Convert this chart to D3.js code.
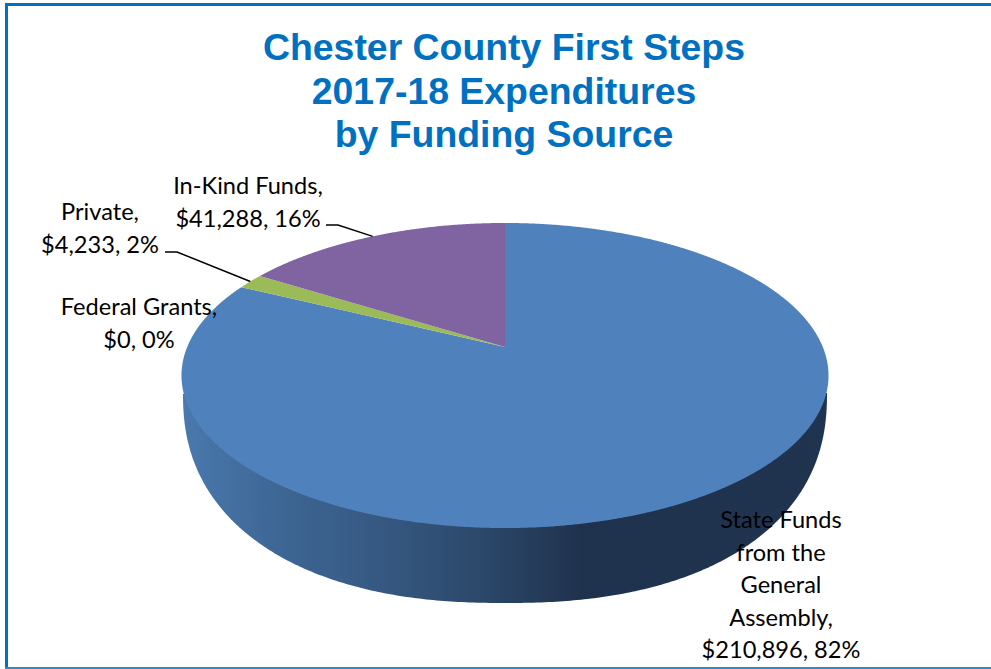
<!DOCTYPE html>
<html>
<head>
<meta charset="utf-8">
<script src="https://cdn.jsdelivr.net/npm/d3@7"></script>
<style>
  html, body { margin: 0; padding: 0; background: #fff; }
  svg { display: block; }
</style>
</head>
<body>
<div id="container"></div>
<script>
let w = 991;
let h = 669;

//chart data, clockwise from the top of the pie
let categories = ['State Funds from the General Assembly', 'Federal Grants', 'Private', 'In-Kind Funds'];
let amounts = [210896, 0, 4233, 41288];
let percents = [82, 0, 2, 16];
let sliceColors = ['#4F81BD', '#C0504D', '#9BBB59', '#8064A2'];

let titleLines = ['Chester County First Steps', '2017-18 Expenditures', 'by Funding Source'];

//label text, split the way it wraps in the picture
let labelLines = [
  ['State Funds', 'from the', 'General', 'Assembly,', '$210,896, 82%'],
  ['Federal Grants,', '$0, 0%'],
  ['Private,', '$4,233, 2%'],
  ['In-Kind Funds,', '$41,288, 16%']
];
let labelX = [781, 139, 100, 248];
let labelY = [528, 315, 220, 194];

let blue = '#0070C0';

let viz = d3.select('#container')
  .append('svg')
    .attr('width', w)
    .attr('height', h)
    .attr('id', 'viz');

//frame, only top, left and bottom show
viz.append('rect').attr('x', 5).attr('y', 3).attr('width', w).attr('height', 3).attr('fill', blue);
viz.append('rect').attr('x', 5).attr('y', 3).attr('width', 3).attr('height', h).attr('fill', blue);
viz.append('rect').attr('x', 5).attr('y', 667).attr('width', w).attr('height', 2).attr('fill', '#2E8BCB');

//title
viz.selectAll('.title').data(titleLines)
  .enter()
  .append('text')
    .attr('class', 'title')
    .attr('x', 504)
    .attr('y', (d, i) => 60 + i * 43.5)
    .attr('text-anchor', 'middle')
    .attr('font-family', 'Liberation Sans')
    .attr('font-weight', 'bold')
    .attr('font-size', 37.4)
    .attr('fill', blue)
    .text(d => d);

//the pie is a tilted disc, so the apex is above the middle of the rim
let cx = 505;
let cy = 347;
let persp = 0.187;
let radiusX = 317.8;
let radiusY = 147.2;

function project(a) {
  let u = Math.sin(a);
  let v = Math.cos(a);
  let d = 1 + persp * v;
  return [cx + radiusX * u / d, cy - radiusY * v / d];
}

//lower edge of the wall, a bit boxier than an ellipse
let lowY = 393;
let lowRx = 322;
let lowRy = 210;
let lowPow = 2 / 2.3;

let line = d3.line();

//wall colour runs left to right across the front
let defs = viz.append('defs');
let wallGrad = defs.append('linearGradient')
  .attr('id', 'wall')
  .attr('gradientUnits', 'userSpaceOnUse')
  .attr('x1', 182).attr('x2', 828).attr('y1', 0).attr('y2', 0);
let wallStops = [[0, '#4A79AE'], [0.136, '#3E6896'], [0.291, '#375A84'], [0.446, '#2D4A6D'], [0.62, '#1F324D'], [1, '#1F3450']];
wallStops.forEach(s => wallGrad.append('stop').attr('offset', s[0]).attr('stop-color', s[1]));

let lowerEdge = d3.range(0, Math.PI + 0.005, 0.01).map(t => {
  let c = Math.cos(t);
  let s = Math.max(0, Math.sin(t));
  return [cx + lowRx * Math.sign(c) * Math.pow(Math.abs(c), lowPow), lowY + lowRy * Math.pow(s, lowPow)];
});
viz.append('path')
  .attr('d', line(lowerEdge) + 'Z')
  .attr('fill', 'url(#wall)');

//top of the pie
let pie = d3.pie().sort(null).value(d => d);
let slices = pie(amounts);

function slicePath(d) {
  let pts = [[cx, cy]];
  let n = Math.max(2, Math.ceil((d.endAngle - d.startAngle) / 0.005));
  d3.range(n + 1).forEach(i => {
    pts.push(project(d.startAngle + (d.endAngle - d.startAngle) * i / n));
  });
  return line(pts) + 'Z';
}

viz.selectAll('.slice').data(slices)
  .enter()
  .append('path')
    .attr('class', 'slice')
    .attr('d', slicePath)
    .attr('fill', (d, i) => sliceColors[i]);

//leader lines
function leader(i, x0, x1, y0) {
  let a = (slices[i].startAngle + slices[i].endAngle) / 2;
  let p = project(a);
  viz.append('path')
    .attr('d', line([[x0, y0], [x1, y0], p]))
    .attr('fill', 'none')
    .attr('stroke', '#000')
    .attr('stroke-width', 1.5);
}
leader(2, 165, 177, 252);
leader(3, 326, 338, 225);

//labels
labelLines.forEach((lines, k) => {
  viz.selectAll('.label' + k).data(lines)
    .enter()
    .append('text')
      .attr('class', 'label' + k)
      .attr('x', labelX[k])
      .attr('y', (d, i) => labelY[k] + i * 32.6)
      .attr('text-anchor', 'middle')
      .attr('font-family', 'Lato')
      .attr('font-size', 23.6)
      .attr('fill', '#000')
      .text(d => d);
});
</script>
</body>
</html>
